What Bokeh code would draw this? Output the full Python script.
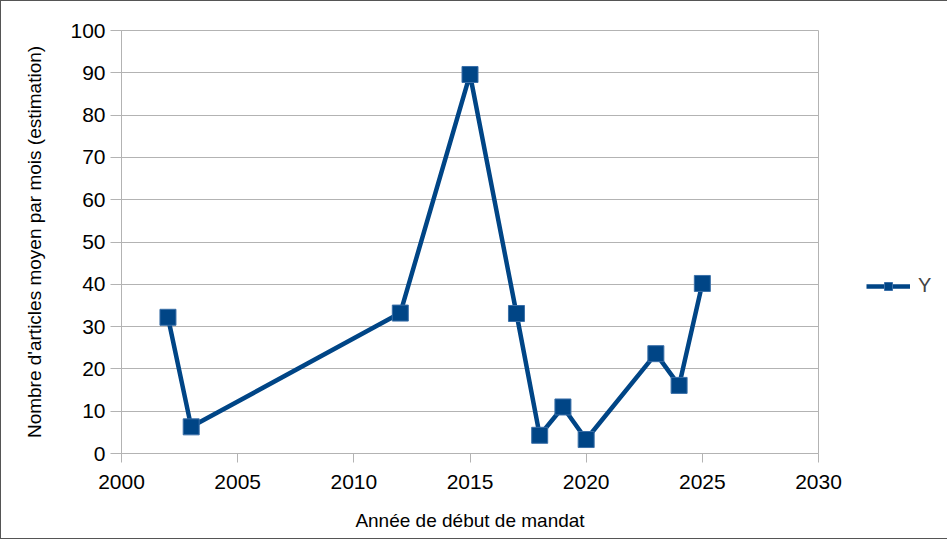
from bokeh.plotting import figure
from bokeh.models import Legend, LegendItem, Range1d, FixedTicker
from bokeh.embed import file_html
from bokeh.resources import INLINE

years = [2002, 2003, 2012, 2015, 2017, 2018, 2019, 2020, 2023, 2024, 2025]
values = [32.2, 6.3, 33.2, 89.6, 33.1, 4.3, 11.0, 3.3, 23.6, 16.1, 40.2]
x_ticks = [2000, 2005, 2010, 2015, 2020, 2025, 2030]
y_ticks = [0, 10, 20, 30, 40, 50, 60, 70, 80, 90, 100]
series_name = "Y"
x_title = "Année de début de mandat"
y_title = "Nombre d'articles moyen par mois (estimation)"

COLOR = "#004586"
FONT = "Liberation Sans"

p = figure(frame_width=697, frame_height=423, output_backend="svg", toolbar_location=None,
           x_range=Range1d(2000, 2030), y_range=Range1d(0, 100),
           min_border_left=120, min_border_right=0, min_border_top=29, min_border_bottom=85)

ln = p.line(years, values, line_color=COLOR, line_width=4.5)
sq = p.scatter(years, values, marker="square", size=16, fill_color=COLOR, line_color="#3a6fa8", line_width=1)

p.xaxis.ticker = FixedTicker(ticks=x_ticks)
p.yaxis.ticker = FixedTicker(ticks=y_ticks)
p.xgrid.grid_line_color = None
p.ygrid.grid_line_color = "#b3b3b3"
p.ygrid.grid_line_width = 1
p.outline_line_color = "#b3b3b3"

for ax in (p.xaxis[0], p.yaxis[0]):
    ax.axis_line_color = "#b3b3b3"
    ax.major_tick_line_color = "#b3b3b3"
    ax.minor_tick_line_color = None
    ax.major_tick_in = 0
    ax.major_label_text_font = FONT
    ax.major_label_text_font_size = "21px"
    ax.major_label_text_color = "#000000"
    ax.axis_label_text_font = FONT
    ax.axis_label_text_font_size = "19px"
    ax.axis_label_text_font_style = "normal"
    ax.axis_label_text_color = "#000000"

p.xaxis.major_tick_out = 9
p.yaxis.major_tick_out = 11
p.xaxis.axis_label = x_title
p.yaxis.axis_label = y_title
p.xaxis.major_label_standoff = 12
p.yaxis.major_label_standoff = 5
p.xaxis.axis_label_standoff = 18
p.yaxis.axis_label_standoff = 22

legend = Legend(items=[LegendItem(label=series_name, renderers=[ln, sq])],
                location=(48, 156), border_line_color=None, background_fill_alpha=0,
                label_text_font=FONT, label_text_font_size="20px",
                glyph_width=44, label_standoff=8, label_width=14, padding=0, margin=0)
p.add_layout(legend, "right")
p.min_border_right = 112

p.styles = {"border": "1px solid #555555"}

open("out.html", "w").write(file_html(p, INLINE))
